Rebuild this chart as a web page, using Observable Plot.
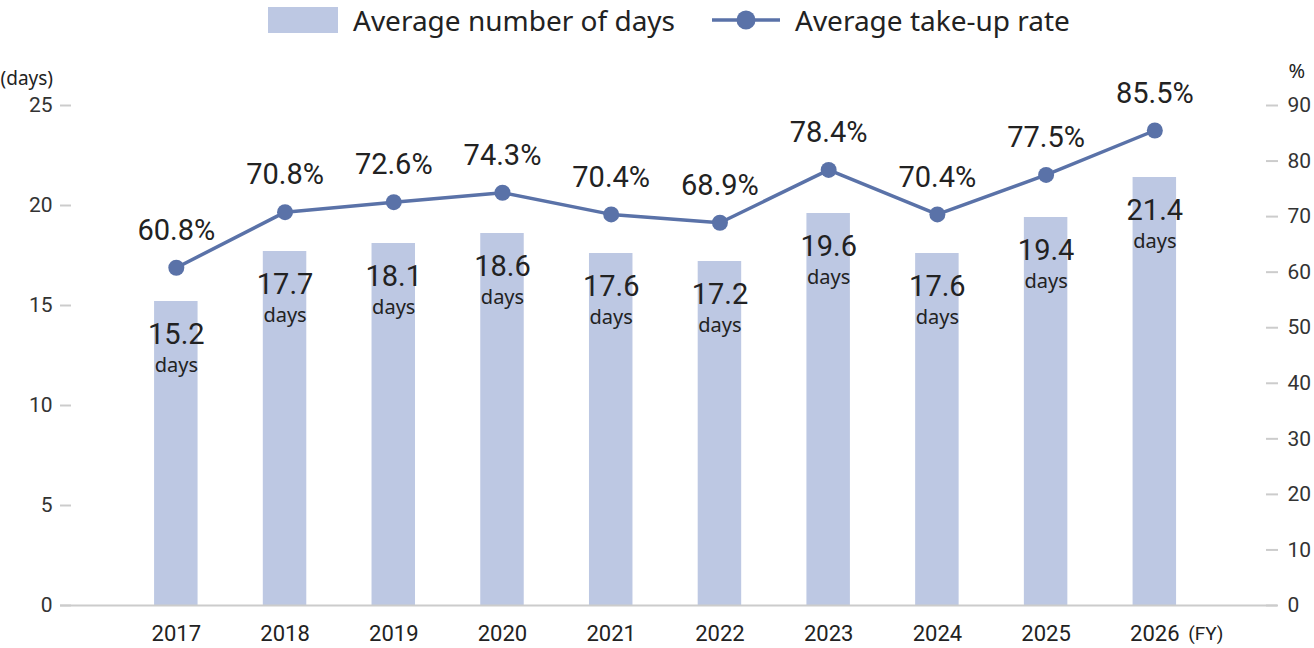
<!DOCTYPE html>
<html>
<head>
<meta charset="utf-8">
<script src="https://cdn.jsdelivr.net/npm/d3@7"></script>
<script src="https://cdn.jsdelivr.net/npm/@observablehq/plot@0.6"></script>
<style>
  html, body { margin: 0; padding: 0; background: #fff; }
  body { width: 1314px; height: 648px; overflow: hidden; font-family: "Noto Sans", sans-serif; }
  #legend { height: 44px; position: relative; }
  .lg { position: absolute; top: 0; height: 40px; display: flex; align-items: center; font-size: 28px; color: #222; }
  .sw { display: inline-block; }
</style>
</head>
<body>
<div id="legend">
  <div class="lg" style="left:268px;"><span class="sw" style="width:70px;height:26px;background:#bdc8e3;margin-right:15px;"></span>Average number of days</div>
  <div class="lg" style="left:712px;"><svg width="70" height="26" style="margin-right:13px;"><line x1="0" y1="13" x2="68" y2="13" stroke="#5a72a8" stroke-width="3.5"/><circle cx="34" cy="13" r="9.5" fill="#5a72a8"/></svg>Average take-up rate</div>
</div>
<div id="chart"></div>
<script>
const years = ["2017","2018","2019","2020","2021","2022","2023","2024","2025","2026"];
const days = [15.2, 17.7, 18.1, 18.6, 17.6, 17.2, 19.6, 17.6, 19.4, 21.4];
const rates = [60.8, 70.8, 72.6, 74.3, 70.4, 68.9, 78.4, 70.4, 77.5, 85.5];
const leftTicks = [0, 5, 10, 15, 20, 25];
const rightTicks = [0, 10, 20, 30, 40, 50, 60, 70, 80, 90];

const daysMax = 25, rateMax = 90;
const toDays = p => p * daysMax / rateMax;

const data = years.map((y, i) => ({year: y, days: days[i], rate: rates[i], rateY: toDays(rates[i])}));

const numFont = "Roboto, sans-serif";
const textFont = "'Noto Sans', sans-serif";

const chart = Plot.plot({
  width: 1314,
  height: 604,
  marginLeft: 71,
  marginRight: 49,
  marginTop: 61,
  marginBottom: 43,
  style: {fontFamily: numFont, background: "#fff", overflow: "visible"},
  x: {domain: years, paddingInner: 0.6, paddingOuter: 0.791, align: 0.483, round: false, axis: null},
  y: {domain: [0, daysMax], axis: null},
  marks: [
    Plot.barY(data, {x: "year", y: "days", fill: "#bdc8e3"}),
    Plot.ruleY([0], {stroke: "#cccccc", strokeWidth: 2, insetLeft: -11, insetRight: -12}),
    Plot.axisY(leftTicks, {anchor: "left", tickSize: 11, tickPadding: 8, stroke: "#cccccc", strokeWidth: 2, fontSize: 21, fill: "#333", fontFamily: numFont, label: null, tickFormat: d => d}),
    Plot.axisY(rightTicks.map(toDays), {anchor: "right", tickSize: 12, tickPadding: 10, stroke: "#cccccc", strokeWidth: 2, fontSize: 21, fill: "#333", fontFamily: numFont, label: null, tickFormat: d => Math.round(d * rateMax / daysMax)}),
    Plot.axisX(years, {anchor: "bottom", tickSize: 0, tickPadding: 20, fontSize: 22, fill: "#222", fontFamily: numFont, label: null}),
    Plot.text(["(FY)"], {x: () => "2026", frameAnchor: "bottom", dy: 34, dx: 51, fontSize: 19, fill: "#222", fontFamily: numFont}),
    Plot.text(["(days)"], {frameAnchor: "top-left", textAnchor: "start", dx: -71, dy: -34, fontSize: 19, fill: "#222", fontFamily: textFont}),
    Plot.text(["%"], {frameAnchor: "top-right", textAnchor: "start", dx: 23, dy: -42, fontSize: 20, fill: "#222", fontFamily: textFont}),
    Plot.line(data, {x: "year", y: "rateY", stroke: "#5a72a8", strokeWidth: 3.5}),
    Plot.dot(data, {x: "year", y: "rateY", r: 8, fill: "#5a72a8"}),
    Plot.text(data, {x: "year", y: "rateY", text: d => d.rate.toFixed(1) + "%", dy: -37, fontSize: 29, fill: "#222", fontFamily: numFont}),
    Plot.text(data, {x: "year", y: "days", text: d => d.days.toFixed(1), dy: 33, fontSize: 29, fill: "#222", fontFamily: numFont}),
    Plot.text(data, {x: "year", y: "days", text: () => "days", dy: 64, fontSize: 20, fill: "#222", fontFamily: textFont})
  ]
});
document.getElementById("chart").appendChild(chart);
</script>
</body>
</html>
